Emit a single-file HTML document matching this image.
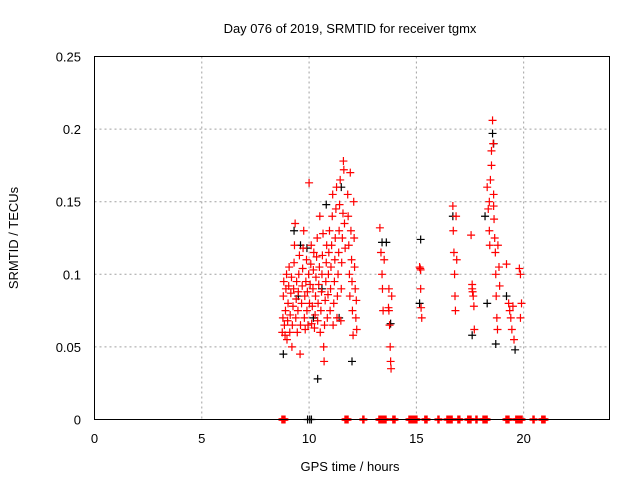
<!DOCTYPE html>
<html><head><meta charset="utf-8"><style>
html,body{margin:0;padding:0;background:#fff}
svg{display:block;font-family:"Liberation Sans",sans-serif}
</style></head><body>
<svg id="chart" width="640" height="480" viewBox="0 0 640 480" xmlns="http://www.w3.org/2000/svg">
<text x="350" y="33" font-size="13" text-anchor="middle">Day 076 of 2019, SRMTID for receiver tgmx</text>
<text transform="translate(18,238) rotate(-90)" font-size="13" text-anchor="middle">SRMTID / TECUs</text>
<text x="350" y="471" font-size="13" text-anchor="middle">GPS time / hours</text>
<g id="grid"></g><g id="ticks"></g><g id="marks"></g>
<rect x="94.5" y="56.5" width="515" height="363" fill="none" stroke="#000" stroke-width="1"/>
</svg>
<script>
const xTicks=[0,5,10,15,20];
const yTicks=[0,0.05,0.1,0.15,0.2,0.25];
const yTickLabels=["0","0.05","0.1","0.15","0.2","0.25"];
const redHours=[8.75,8.78,8.8,8.82,8.85,8.88,8.9,8.92,8.95,8.97,9.0,9.02,9.05,9.07,9.1,9.12,9.15,9.18,9.2,9.22,9.25,9.28,9.3,9.32,9.35,9.38,9.4,9.42,9.45,9.48,9.5,9.52,9.55,9.58,9.6,
9.65,9.68,9.7,9.72,9.75,9.78,9.8,9.82,9.85,9.88,9.9,9.92,9.95,9.98,10.0,10.02,10.05,10.08,10.1,10.12,10.15,10.18,10.2,10.22,10.25,10.28,10.3,10.32,10.35,10.38,10.4,10.42,10.45,10.48,10.5,10.52,10.55,10.58,10.6,10.62,10.65,10.68,10.7,10.72,10.75,10.78,10.8,10.82,10.85,10.88,10.9,10.92,10.95,10.98,
11.0,11.02,11.05,11.08,11.1,11.12,11.15,11.18,11.2,11.22,11.25,11.28,11.3,11.32,11.35,11.38,11.4,11.42,11.45,11.48,11.5,11.52,11.55,11.58,11.6,11.62,11.65,11.68,
11.8,11.82,11.85,11.88,11.9,11.92,11.95,11.98,12.0,12.02,12.05,12.08,12.1,12.12,12.15,12.18,12.2,12.22,
13.3,13.35,13.4,13.42,13.45,13.5,13.7,13.72,13.75,13.78,13.8,13.82,13.85,13.72,
15.15,15.18,15.2,15.22,15.25,15.2,
16.7,16.72,16.75,16.78,16.8,16.82,16.85,16.88,
17.55,17.6,17.62,17.65,17.68,17.7,17.6,
18.3,18.35,18.4,18.42,18.45,18.5,18.55,18.58,18.6,18.62,18.65,18.68,18.7,18.72,18.75,18.78,18.8,18.85,18.88,18.4,18.5,18.6,
19.2,19.3,19.35,19.4,19.45,19.5,19.55,19.8,19.85,19.9,19.85];
const redValues=[.06,.07,.085,.095,.065,.058,.075,.09,.1,.055,.068,.08,.092,.105,.06,.072,.087,.098,.05,.065,.078,.09,.108,.12,.135,.07,.083,.095,.06,.075,.088,.1,.113,.045,.065,
.08,.092,.104,.118,.13,.07,.085,.062,.095,.11,.075,.088,.065,.1,.163,.08,.093,.107,.12,.066,.078,.09,.103,.115,.063,.072,.085,.098,.112,.125,.068,.08,.093,.105,.14,.06,.075,.088,.1,.113,.128,.05,.04,.065,.082,.095,.108,.12,.07,.086,.1,.115,.13,.075,
.09,.105,.12,.14,.155,.065,.08,.095,.11,.125,.145,.16,.07,.085,.1,.115,.13,.148,.165,.068,.09,.108,.125,.142,.178,.172,.135,.118,
.155,.14,.12,.1,.085,.17,.13,.11,.095,.075,.058,.15,.125,.105,.09,.07,.082,.062,
.132,.115,.1,.09,.075,.11,.077,.09,.065,.05,.04,.035,.085,.075,
.105,.104,.09,.077,.07,.103,
.147,.13,.115,.1,.085,.075,.14,.11,
.127,.093,.088,.085,.078,.062,.09,
.16,.145,.13,.12,.165,.185,.206,.19,.155,.138,.125,.115,.1,.085,.07,.062,.12,.105,.092,.15,.175,.147,
.107,.08,.075,.07,.062,.078,.055,.104,.1,.08,.07];
// hours of red samples with value 0 (drawn on the x axis)
const redZeroHours=[8.76,8.81,8.85,11.7,11.74,11.79,12.53,13.28,13.33,13.37,13.42,13.47,13.51,13.56,13.93,13.98,
14.68,14.73,14.77,14.82,14.87,14.91,14.96,15.0,15.42,15.47,16.03,16.45,16.54,16.59,16.64,16.96,17.0,
17.42,17.47,17.52,17.8,18.13,18.17,18.22,18.27,19.2,19.25,19.29,19.66,19.71,19.76,19.8,19.85,19.9,20.46,20.87,20.92,20.97];
const blackHours=[8.8,9.3,9.6,9.9,10.2,10.4,10.8,11.5,11.4,12.0,13.4,13.6,13.8,15.2,15.15,16.7,17.6,18.2,18.55,18.6,18.7,19.6,19.2,18.3,9.5,10.6,9.93,10.03,10.11];
const blackValues=[.045,.13,.12,.118,.07,.028,.148,.16,.07,.04,.122,.122,.066,.124,.08,.14,.058,.14,.197,.19,.052,.048,.085,.08,.085,.09,0,0,0];

const NS="http://www.w3.org/2000/svg";
const X0=94.5,X1=609.5,Y0=419.5,Y1=56.5;
function xs(h){return X0+(h/24)*(X1-X0);}
function ys(v){return Y0-(v/0.25)*(Y0-Y1);}
const grid=document.getElementById('grid'),ticks=document.getElementById('ticks'),marks=document.getElementById('marks');
function mk(tag,attrs,parent){const e=document.createElementNS(NS,tag);for(const k in attrs)e.setAttribute(k,attrs[k]);parent.appendChild(e);return e;}
xTicks.forEach(t=>{
  const x=xs(t);
  if(t>0){const g=mk('line',{x1:x,x2:x,y1:Y1,y2:Y0,stroke:'#a0a0a0','stroke-dasharray':'2,3'},grid);
  
  }
  const l=mk('text',{x:x,y:443,'font-size':13,'text-anchor':'middle'},ticks);l.textContent=String(t);
  
  
});
yTicks.forEach((t,i)=>{
  const y=ys(t);
  if(t>0&&t<0.25){const g=mk('line',{x1:X0,x2:X1,y1:y,y2:y,stroke:'#a0a0a0','stroke-dasharray':'2,3'},grid);
  
  }
  const l=mk('text',{x:81,y:y+5,'font-size':13,'text-anchor':'end'},ticks);l.textContent=yTickLabels[i];
  
  
});
function plus(h,v,color,w){
  const x=xs(h),y=ys(v);
  const p=mk('path',{d:`M${x-4},${y}H${x+4}M${x},${y-4}V${y+4}`,stroke:color,'stroke-width':w,fill:'none'},marks);
  
  
}
blackHours.forEach((h,i)=>plus(h,blackValues[i],'#000',1.2));
redHours.forEach((h,i)=>plus(h,redValues[i],'#f00',1.2));
redZeroHours.forEach(h=>plus(h,0,'#f00',2.5));
</script>
</body></html>
